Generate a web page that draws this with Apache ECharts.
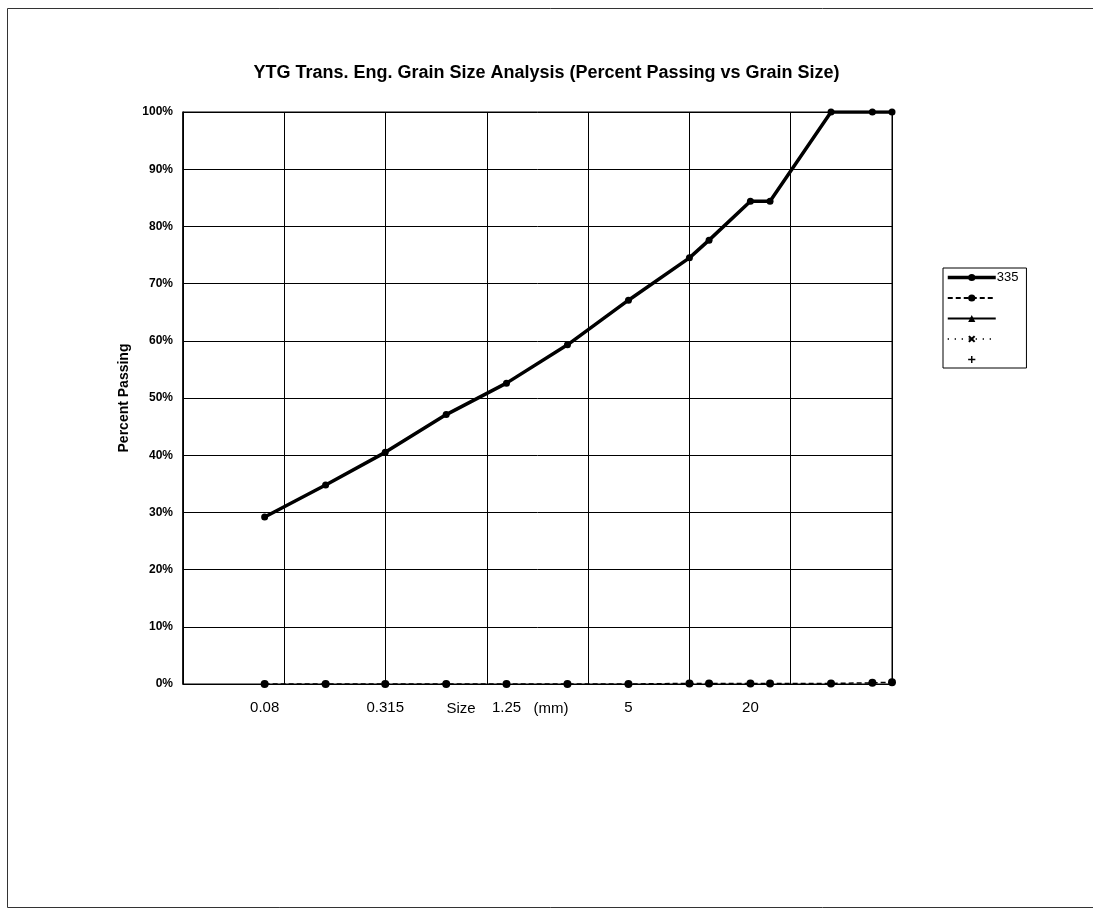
<!DOCTYPE html>
<html>
<head>
<meta charset="utf-8">
<title>YTG Grain Size Analysis</title>
<script src="https://cdn.jsdelivr.net/npm/echarts@6/dist/echarts.min.js"></script>
<style>
  html, body { margin: 0; padding: 0; background: #fff; }
  #chart { width: 1093px; height: 910px; }
</style>
</head>
<body>
<div id="chart"></div>
<script>
// sieve sizes (mm) and percent passing
var sizes = [0.08, 0.16, 0.315, 0.63, 1.25, 2.5, 5, 10, 12.5, 20, 25, 50, 80, 100];
var passing335 = [29.2, 34.8, 40.5, 47.1, 52.6, 59.3, 67.1, 74.5, 77.6, 84.4, 84.4, 100, 100, 100];
var passing2 = [0, 0, 0, 0, 0, 0, 0, 0.1, 0.1, 0.1, 0.1, 0.1, 0.2, 0.3];
var xTickLabels = [0.08, 0.315, 1.25, 5, 20];
var yTicks = [0, 10, 20, 30, 40, 50, 60, 70, 80, 90, 100];

function pairs(xs, ys) {
    var out = [];
    for (var i = 0; i < xs.length; i++) {
        out.push([xs[i], ys[i]]);
    }
    return out;
}

var crossSym = 'path://M0,2 L2,0 L5,3 L8,0 L10,2 L7,5 L10,8 L8,10 L5,7 L2,10 L0,8 L3,5 Z';
var plusSym = 'path://M4,0 H6 V4 H10 V6 H6 V10 H4 V6 H0 V4 H4 Z';
var font = '"Liberation Sans", Arial, sans-serif';

var myChart = echarts.init(document.getElementById('chart'));
myChart.setOption({
    backgroundColor: '#fff',
    animation: false,
    textStyle: { fontFamily: font, color: '#000' },
    title: {
        text: 'YTG Trans. Eng. Grain Size Analysis (Percent Passing vs Grain Size)',
        left: 'center',
        top: 59,
        textStyle: { fontSize: 18, fontWeight: 'bold', color: '#000', fontFamily: font }
    },
    graphic: [{
        type: 'rect',
        shape: { x: 7.5, y: 8.5, width: 1095, height: 899 },
        style: { fill: 'none', stroke: '#333', lineWidth: 1 },
        silent: true
    }],
    legend: {
        orient: 'vertical',
        left: 943,
        top: 268,
        data: [
            { name: '335', lineStyle: { width: 3.5 } },
            ' ', '  ', '   ', '    '
        ],
        itemWidth: 48,
        itemHeight: 9,
        itemGap: 7.5,
        padding: [3, 8, 2, 3],
        borderColor: '#000',
        borderWidth: 1,
        backgroundColor: '#fff',
        selectedMode: false,
        textStyle: { fontSize: 13, color: '#000', fontFamily: font, padding: [0, 0, 0, -4] }
    },
    grid: {
        left: 183,
        right: 201,
        top: 112,
        bottom: 226,
        show: true,
        borderColor: '#000',
        borderWidth: 1
    },
    xAxis: {
        type: 'log',
        logBase: 10,
        min: Math.pow(10, -1.5),
        max: 100,
        interval: 0.5,
        name: '{a|Size}{b|(mm)}',
        nameLocation: 'middle',
        nameGap: 17,
        nameTextStyle: {
            padding: [0, 60, 0, 0],
            rich: {
                a: { fontSize: 15, color: '#000', fontFamily: font },
                b: { fontSize: 15, color: '#000', fontFamily: font, padding: [0, 0, 0, 58] }
            }
        },
        axisLine: { show: true, lineStyle: { color: '#000', width: 1 } },
        axisTick: { show: false },
        axisLabel: { show: false },
        splitLine: { show: true, lineStyle: { color: '#000', width: 1 } },
        minorSplitLine: { show: false }
    },
    yAxis: {
        type: 'value',
        min: 0,
        max: 100,
        interval: 10,
        name: 'Percent Passing',
        nameLocation: 'middle',
        nameGap: 45,
        nameTextStyle: { fontSize: 14, fontWeight: 'bold', color: '#000', fontFamily: font },
        axisLine: { show: true, lineStyle: { color: '#000', width: 1.5 } },
        axisTick: { show: false },
        axisLabel: {
            margin: 10,
            fontSize: 12,
            fontWeight: 'bold',
            color: '#000',
            fontFamily: font,
            customValues: yTicks,
            formatter: '{value}%'
        },
        splitLine: { show: true, lineStyle: { color: '#000', width: 1 } }
    },
    series: [{
        name: '335',
        type: 'line',
        data: pairs(sizes, passing335),
        symbol: 'circle',
        symbolSize: 7,
        itemStyle: { color: '#000' },
        lineStyle: { color: '#000', width: 3.5 },
        z: 5
    }, {
        name: ' ',
        type: 'line',
        data: pairs(sizes, passing2),
        symbol: 'circle',
        symbolSize: 8,
        clip: false,
        itemStyle: { color: '#000' },
        lineStyle: { color: '#000', width: 1.5, type: [5, 3] },
        z: 6
    }, {
        name: '  ',
        type: 'line',
        data: [],
        symbol: 'triangle',
        symbolSize: 8,
        itemStyle: { color: '#000' },
        lineStyle: { color: '#000', width: 1.5 }
    }, {
        name: '   ',
        type: 'line',
        data: [],
        symbol: crossSym,
        symbolSize: 8,
        itemStyle: { color: '#000' },
        lineStyle: { color: '#000', width: 1.5, type: [1, 6] }
    }, {
        name: '    ',
        type: 'line',
        data: [],
        symbol: plusSym,
        symbolSize: 7,
        itemStyle: { color: '#000' },
        lineStyle: { width: 0, opacity: 0 }
    }, {
        // x tick labels placed at their sieve size on the log axis
        name: 'xlabels',
        type: 'scatter',
        data: pairs(xTickLabels, [0, 0, 0, 0, 0]),
        symbolSize: 0,
        silent: true,
        clip: false,
        itemStyle: { color: '#000', opacity: 1 },
        label: {
            show: true,
            position: 'bottom',
            distance: 16,
            fontSize: 15,
            color: '#000',
            opacity: 1,
            fontFamily: font,
            formatter: function (p) { return String(p.value[0]); }
        }
    }]
});
</script>
</body>
</html>
